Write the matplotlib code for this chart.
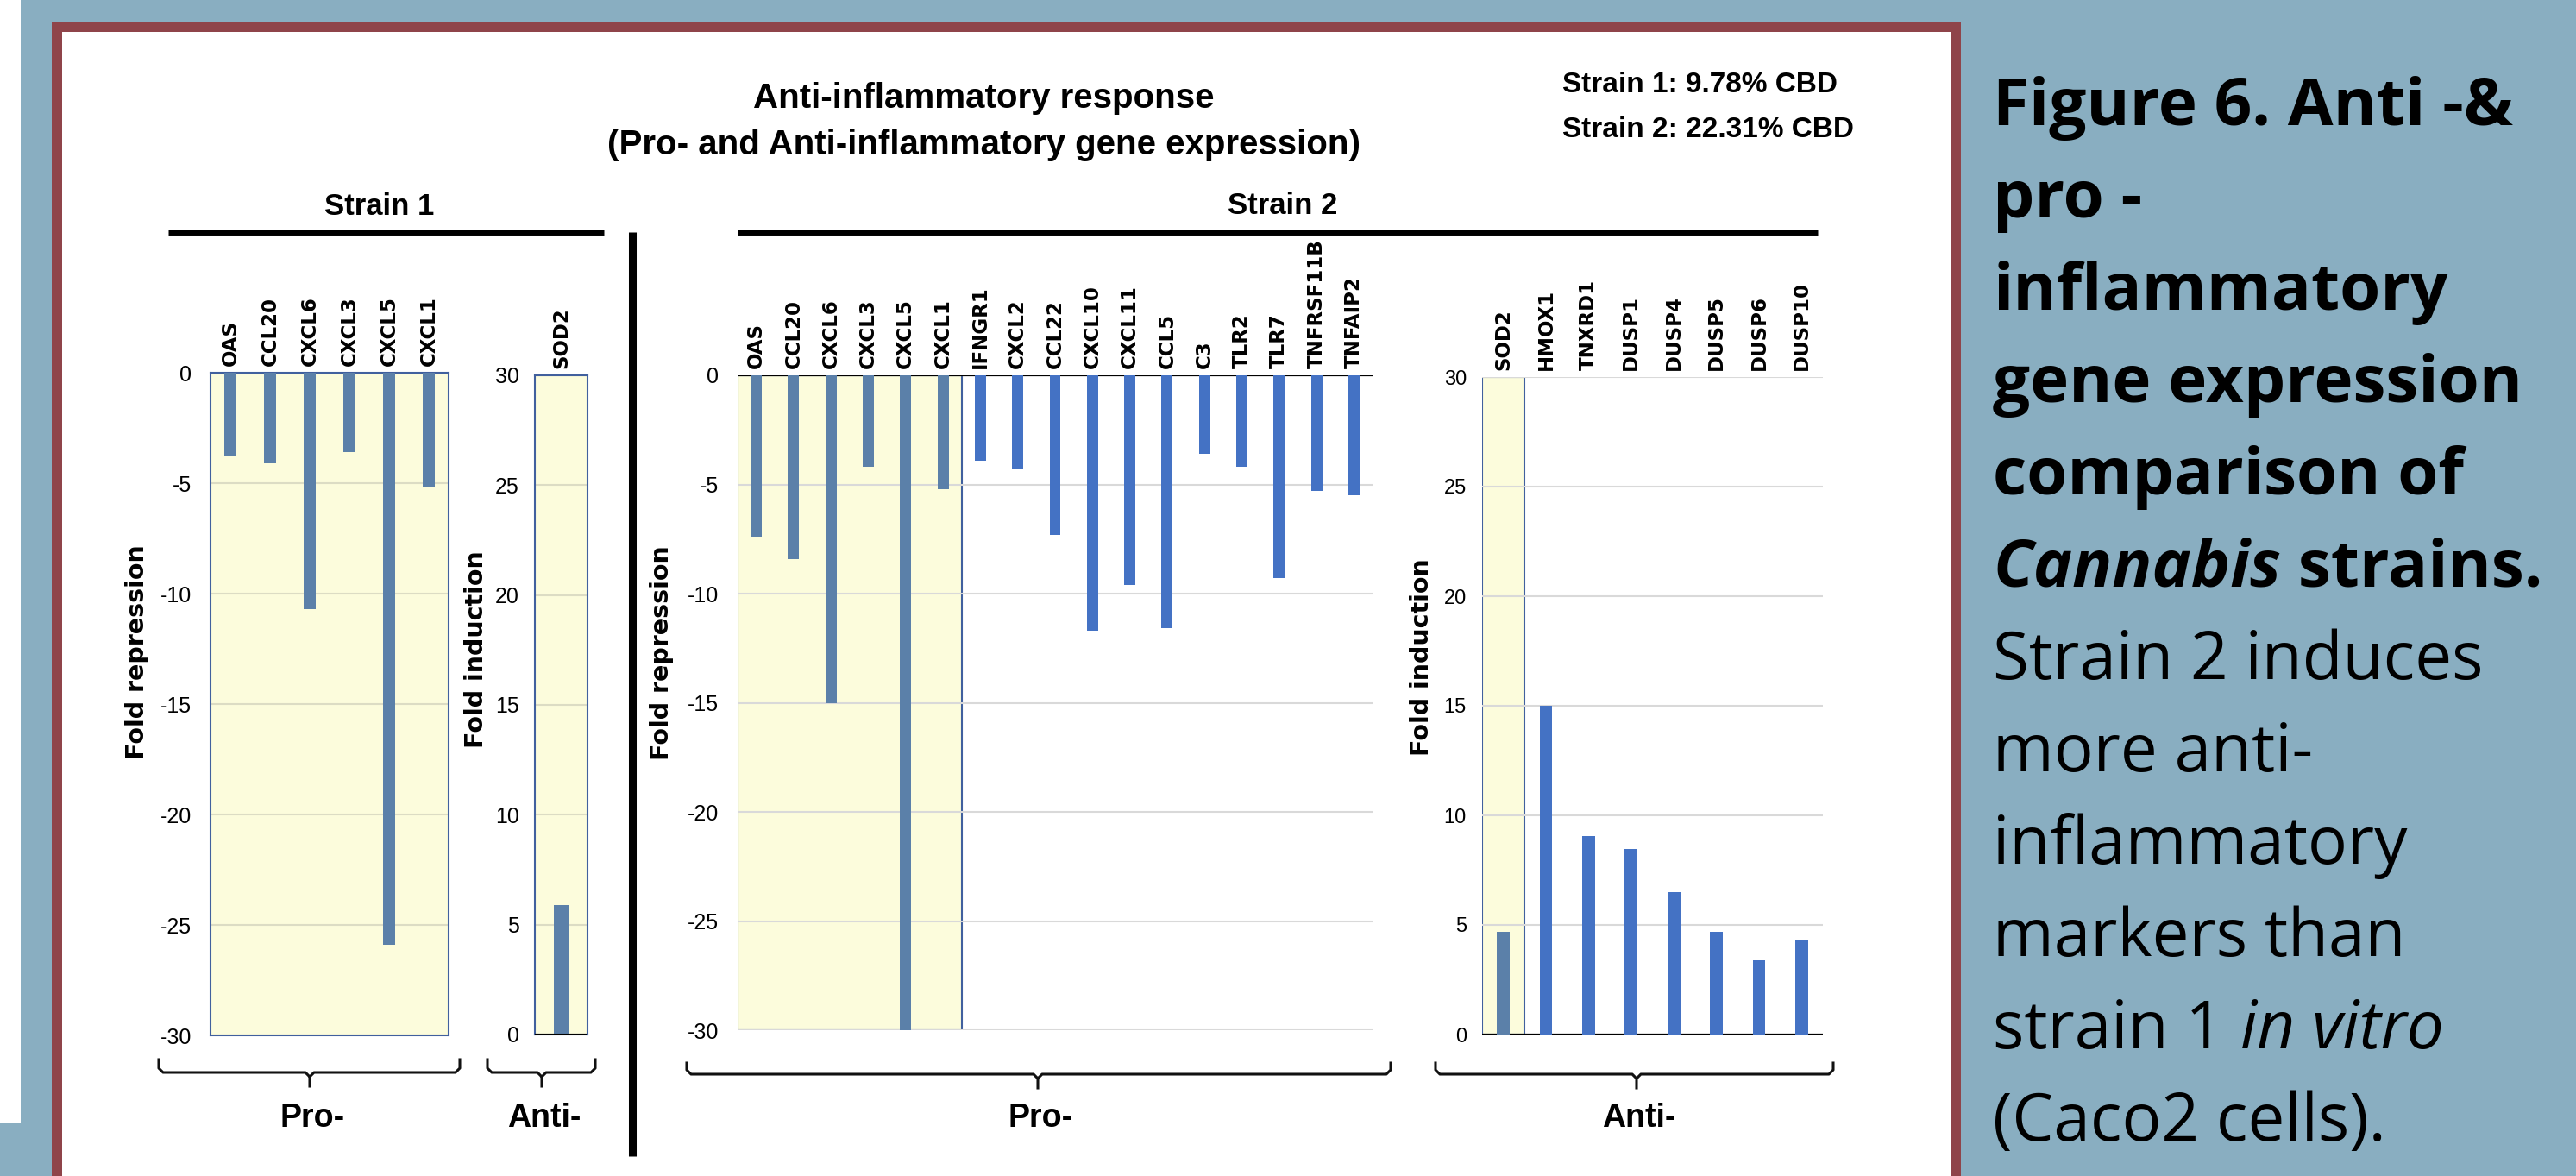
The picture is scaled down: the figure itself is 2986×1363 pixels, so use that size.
import matplotlib
matplotlib.use("Agg")
import matplotlib.pyplot as plt
from matplotlib import font_manager

W, H = 2986, 1363
DPI = 100

# ---- data ----
s1_pro_genes = ["OAS", "CCL20", "CXCL6", "CXCL3", "CXCL5", "CXCL1"]
s1_pro_vals = [-3.8, -4.1, -10.7, -3.6, -25.9, -5.2]

s1_anti_genes = ["SOD2"]
s1_anti_vals = [5.9]

s2_pro_genes = ["OAS", "CCL20", "CXCL6", "CXCL3", "CXCL5", "CXCL1", "IFNGR1",
                "CXCL2", "CCL22", "CXCL10", "CXCL11", "CCL5", "C3", "TLR2",
                "TLR7", "TNFRSF11B", "TNFAIP2"]
s2_pro_vals = [-7.4, -8.4, -15.0, -4.2, -30.0, -5.2, -3.9, -4.3, -7.3, -11.7,
               -9.6, -11.6, -3.6, -4.2, -9.3, -5.3, -5.5]

s2_anti_genes = ["SOD2", "HMOX1", "TNXRD1", "DUSP1", "DUSP4", "DUSP5", "DUSP6", "DUSP10"]
s2_anti_vals = [4.7, 15.0, 9.05, 8.45, 6.5, 4.7, 3.4, 4.3]

# genes also measured in strain 1 (highlighted)
shared_pro = 6
shared_anti = 1

BLUE_BG = "#89aec1"
RED = "#8f444a"
YELLOW = "#fcfcdc"
EDGE = "#41609e"
STEEL = "#5b80a9"
BAR2 = "#4472c4"
GRID = "#d9d9d9"
GRID_Y = "#dcdcc4"

SANS = "Liberation Sans"
plt.rcParams["axes.unicode_minus"] = False


def bold_ok(fam):
    for f in font_manager.fontManager.ttflist:
        if f.name == fam:
            w = f.weight if isinstance(f.weight, int) else font_manager.weight_dict.get(f.weight, 400)
            if w >= 600:
                return True
    return False


CAP_FONT = next((f for f in ["Noto Sans", "Open Sans", "Lato"] if bold_ok(f)), "DejaVu Sans")

fig = plt.figure(figsize=(W / DPI, H / DPI), dpi=DPI)
fig.patch.set_facecolor(BLUE_BG)

# background / frame, in pixel coordinates
bg = fig.add_axes([0, 0, 1, 1], zorder=-1)
bg.set_xlim(0, W)
bg.set_ylim(H, 0)
bg.axis("off")
bg.add_patch(plt.Rectangle((0, 0), 24, 1302, color="white", lw=0))
bg.add_patch(plt.Rectangle((60, 25), 2213, 1400, color=RED, lw=0))
bg.add_patch(plt.Rectangle((72, 37), 2190, 1400, color="white", lw=0))


def panel(x0, y0, x1, y1):
    return fig.add_axes([x0 / W, 1 - y1 / H, (x1 - x0) / W, (y1 - y0) / H])


def style(ax, genes, lo, hi, tsize, tpad, grid):
    ax.set_xlim(-0.5, len(genes) - 0.5)
    ax.set_ylim(lo, hi)
    ax.set_yticks(range(lo, hi + 1, 5))
    ax.xaxis.tick_top()
    ax.set_xticks(range(len(genes)))
    ax.set_xticklabels(genes, rotation=90, fontsize=16.5, fontweight="bold",
                       family="DejaVu Sans")
    ax.tick_params(axis="both", length=0)
    ax.tick_params(axis="x", pad=6)
    ax.tick_params(axis="y", pad=tpad)
    for lab in ax.get_yticklabels():
        lab.set_family(SANS)
        lab.set_fontsize(tsize)
    ax.grid(axis="y", color=grid, lw=1.5)
    ax.set_axisbelow(True)


# strain 1, pro-inflammatory
ax1 = panel(244, 432, 520, 1200)
ax1.set_facecolor(YELLOW)
ax1.bar(range(len(s1_pro_genes)), s1_pro_vals, width=0.3, color=STEEL, zorder=3)
style(ax1, s1_pro_genes, -30, 0, 18, 16, GRID_Y)
for sp in ax1.spines.values():
    sp.set_color(EDGE)
    sp.set_linewidth(1.5)

# strain 1, anti-inflammatory
ax2 = panel(620, 435, 681, 1199)
ax2.set_facecolor(YELLOW)
ax2.bar(range(len(s1_anti_genes)), s1_anti_vals, width=0.28, color=STEEL, zorder=3)
style(ax2, s1_anti_genes, 0, 30, 18, 13, GRID_Y)
ax2.axhline(0, color="black", lw=1.5, zorder=4)
for sp in ax2.spines.values():
    sp.set_color(EDGE)
    sp.set_linewidth(1.5)

# strain 2, pro-inflammatory
ax3 = panel(855, 435, 1591, 1194)
ax3.set_facecolor("none")
cols = [STEEL] * shared_pro + [BAR2] * (len(s2_pro_genes) - shared_pro)
ax3.bar(range(len(s2_pro_genes)), s2_pro_vals, width=0.3, color=cols, zorder=3)
ax3.axvspan(-0.5, shared_pro - 0.5, facecolor=YELLOW, edgecolor=EDGE, lw=1.5, zorder=0.2)
style(ax3, s2_pro_genes, -30, 0, 18, 16, GRID)
ax3.axhline(0, color="black", lw=1.6, zorder=2)
for sp in ax3.spines.values():
    sp.set_visible(False)

# strain 2, anti-inflammatory
ax4 = panel(1718, 437, 2113, 1199)
ax4.set_facecolor("none")
cols = [STEEL] * shared_anti + [BAR2] * (len(s2_anti_genes) - shared_anti)
ax4.bar(range(len(s2_anti_genes)), s2_anti_vals, width=0.3, color=cols, zorder=3)
ax4.axvspan(-0.5, shared_anti - 0.5, facecolor=YELLOW, edgecolor=EDGE, lw=1.5, zorder=0.2)
style(ax4, s2_anti_genes, 0, 30, 17, 13, GRID)
ax4.axhline(0, color="black", lw=1.6, zorder=2)
for sp in ax4.spines.values():
    sp.set_visible(False)

# axis titles
ylab = dict(rotation=90, ha="center", va="center", fontsize=20.5,
            fontweight="bold", family="DejaVu Sans")
bg.text(159, 756, "Fold repression", **ylab)
bg.text(552, 753, "Fold induction", **ylab)
bg.text(767, 757, "Fold repression", **ylab)
bg.text(1648, 762, "Fold induction", **ylab)

# headers
bg.text(1140, 125, "Anti-inflammatory response", ha="center", va="baseline",
        fontsize=29, fontweight="bold", family=SANS)
bg.text(1140, 179, "(Pro- and Anti-inflammatory gene expression)", ha="center",
        va="baseline", fontsize=29, fontweight="bold", family=SANS)
bg.text(1811, 107, "Strain 1: 9.78% CBD", ha="left", va="baseline",
        fontsize=24, fontweight="bold", family=SANS)
bg.text(1811, 159, "Strain 2: 22.31% CBD", ha="left", va="baseline",
        fontsize=24, fontweight="bold", family=SANS)
bg.text(440, 249, "Strain 1", ha="center", va="baseline",
        fontsize=25, fontweight="bold", family=SANS)
bg.text(1487, 248, "Strain 2", ha="center", va="baseline",
        fontsize=25, fontweight="bold", family=SANS)
bg.plot([195, 700], [269, 269], color="black", lw=5, solid_capstyle="butt")
bg.plot([855, 2107], [269, 269], color="black", lw=5, solid_capstyle="butt")
bg.plot([733, 733], [269, 1340], color="black", lw=6.5, solid_capstyle="butt")


def bracket(x0, x1, xc, ytop, ybar, ytip, label):
    r = 5
    kw = dict(color="#111111", lw=2.2, solid_joinstyle="round")
    bg.plot([x0, x0, x0 + r, xc - r, xc, xc], [ytop, ybar - r, ybar, ybar, ybar + r, ytip], **kw)
    bg.plot([x1, x1, x1 - r, xc + r, xc], [ytop, ybar - r, ybar, ybar, ybar + r], **kw)
    bg.text(xc + 3, 1306, label, ha="center", va="baseline", fontsize=27,
            fontweight="bold", family=SANS)


bracket(184, 533, 359, 1228, 1243, 1259, "Pro-")
bracket(565, 690, 628, 1228, 1243, 1259, "Anti-")
bracket(796, 1612, 1203, 1232, 1245, 1261, "Pro-")
bracket(1664, 2125, 1897, 1232, 1245, 1261, "Anti-")

# caption on the right
caption = [
    [("Figure 6. Anti -&", "bold", "normal")],
    [("pro -", "bold", "normal")],
    [("inflammatory", "bold", "normal")],
    [("gene expression", "bold", "normal")],
    [("comparison of", "bold", "normal")],
    [("Cannabis", "bold", "italic"), (" strains.", "bold", "normal")],
    [("Strain 2 induces", "normal", "normal")],
    [("more anti-", "normal", "normal")],
    [("inflammatory", "normal", "normal")],
    [("markers than", "normal", "normal")],
    [("strain 1 ", "normal", "normal"), ("in vitro", "normal", "italic")],
    [("(Caco2 cells).", "normal", "normal")],
]
renderer = fig.canvas.get_renderer()
for i, parts in enumerate(caption):
    x = 2310
    y = 145 + i * 107
    for s, wt, st in parts:
        t = bg.text(x, y, s, ha="left", va="baseline", fontsize=55,
                    fontweight=wt, fontstyle=st, family=CAP_FONT)
        bb = t.get_window_extent(renderer)
        x = bb.x1

fig.savefig("out.png", dpi=DPI, facecolor=fig.get_facecolor())
